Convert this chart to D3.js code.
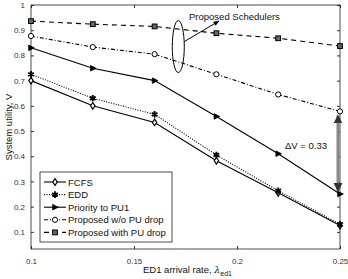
<!DOCTYPE html>
<html lang="en">
<head>
<meta charset="UTF-8">
<script src="https://d3js.org/d3.v7.min.js"></script>
<style>
  body { margin: 0; background: #fff; }
  text { font-family: "Liberation Sans", Arial, sans-serif; }
</style>
</head>
<body>
<script>
    // data
    let rates = [0.1, 0.13, 0.16, 0.19, 0.22, 0.25];
    let fcfs = [0.70, 0.60, 0.534, 0.382, 0.255, 0.125];
    let edd = [0.725, 0.63, 0.566, 0.405, 0.263, 0.13];
    let priority = [0.83, 0.749, 0.70, 0.558, 0.41, 0.25];
    let propNoDrop = [0.877, 0.833, 0.805, 0.725, 0.645, 0.578];
    let propDrop = [0.936, 0.924, 0.915, 0.888, 0.868, 0.837];
    let seriesNames = ["FCFS", "EDD", "Priority to PU1", "Proposed w/o PU drop", "Proposed with PU drop"];
    let xTicks = [0.1, 0.15, 0.2, 0.25];
    let yTicks = [0.1, 0.2, 0.3, 0.4, 0.5, 0.6, 0.7, 0.8, 0.9, 1];

    let series = [
        { name: seriesNames[0], values: fcfs, dash: null, marker: "diamond" },
        { name: seriesNames[1], values: edd, dash: "1,1.5", marker: "star" },
        { name: seriesNames[2], values: priority, dash: null, marker: "triangle" },
        { name: seriesNames[3], values: propNoDrop, dash: "4,2,1,2", marker: "circle" },
        { name: seriesNames[4], values: propDrop, dash: "5,4", marker: "square" }
    ];

    let W = 348, H = 279;
    let m = { left: 31, right: 8, top: 5, bottom: 30 };

    let svg = d3.select("body").append("svg")
        .attr("width", W)
        .attr("height", H);

    let x = d3.scaleLinear().domain([0.1, 0.25]).range([m.left, W - m.right]);
    let y = d3.scaleLinear().domain([0.032, 1]).range([H - m.bottom, m.top]);

    // axes, MATLAB style with inward ticks on all sides
    svg.append("g")
        .attr("transform", "translate(0," + (H - m.bottom) + ")")
        .call(d3.axisBottom(x).tickValues(xTicks).tickSize(-3).tickPadding(9).tickFormat(d3.format("")))
        .call(g => g.select(".domain").remove());
    svg.append("g")
        .attr("transform", "translate(0," + m.top + ")")
        .call(d3.axisTop(x).tickValues(xTicks).tickSize(-3).tickFormat(""))
        .call(g => g.select(".domain").remove());
    svg.append("g")
        .attr("transform", "translate(" + m.left + ",0)")
        .call(d3.axisLeft(y).tickValues(yTicks).tickSize(-3).tickPadding(6).tickFormat(d3.format("")))
        .call(g => g.select(".domain").remove());
    svg.append("g")
        .attr("transform", "translate(" + (W - m.right) + ",0)")
        .call(d3.axisRight(y).tickValues(yTicks).tickSize(-3).tickFormat(""))
        .call(g => g.select(".domain").remove());

    svg.selectAll(".tick text").attr("font-size", 8).attr("fill", "#333")
        .attr("font-family", "Liberation Sans, Arial, sans-serif");
    svg.selectAll(".tick line").attr("stroke", "#333");

    svg.append("rect")
        .attr("x", m.left).attr("y", m.top)
        .attr("width", W - m.left - m.right)
        .attr("height", H - m.top - m.bottom)
        .attr("fill", "none")
        .attr("stroke", "#222")
        .attr("stroke-width", 0.8);

    // axis labels
    let xl = svg.append("text")
        .attr("x", (m.left + W - m.right) / 2 + 2)
        .attr("y", H - 6)
        .attr("text-anchor", "middle")
        .attr("font-size", 9.5)
        .attr("fill", "#111");
    xl.append("tspan").text("ED1 arrival rate, ");
    xl.append("tspan").attr("font-family", "DejaVu Serif, serif").attr("font-style", "italic").text("λ");
    xl.append("tspan").attr("font-size", 7).attr("dy", 3).text("ed1");

    svg.append("text")
        .attr("transform", "translate(12," + ((m.top + H - m.bottom) / 2) + ") rotate(-90)")
        .attr("text-anchor", "middle")
        .attr("font-size", 9.5)
        .attr("fill", "#111")
        .text("System utility, V");

    function drawMarker(g, type, cx, cy) {
        let s = 2.8;
        if (type == "diamond") {
            g.append("path")
                .attr("d", "M" + cx + "," + (cy - s - 0.5) + "L" + (cx + s - 0.6) + "," + cy +
                    "L" + cx + "," + (cy + s + 0.5) + "L" + (cx - s + 0.6) + "," + cy + "Z")
                .attr("fill", "#fff").attr("stroke", "#000").attr("stroke-width", 1.2);
        } else if (type == "star") {
            g.append("path")
                .attr("d", d3.symbol(d3.symbolAsterisk, 30)())
                .attr("transform", "translate(" + cx + "," + cy + ")")
                .attr("fill", "none").attr("stroke", "#000").attr("stroke-width", 1.8);
        } else if (type == "triangle") {
            g.append("path")
                .attr("d", "M" + (cx + s + 0.5) + "," + cy + "L" + (cx - s + 0.5) + "," + (cy - s) +
                    "L" + (cx - s + 0.5) + "," + (cy + s) + "Z")
                .attr("fill", "#000").attr("stroke", "#000").attr("stroke-width", 0.8);
        } else if (type == "circle") {
            g.append("circle").attr("cx", cx).attr("cy", cy).attr("r", 2.6)
                .attr("fill", "#fff").attr("stroke", "#000").attr("stroke-width", 1);
        } else if (type == "square") {
            g.append("rect").attr("x", cx - 2.4).attr("y", cy - 2.4)
                .attr("width", 4.8).attr("height", 4.8)
                .attr("fill", "#666").attr("stroke", "#000").attr("stroke-width", 1);
        }
    }

    let line = d3.line()
        .x((d, i) => x(rates[i]))
        .y(d => y(d));

    series.forEach(s => {
        let g = svg.append("g");
        g.append("path")
            .datum(s.values)
            .attr("d", line)
            .attr("fill", "none")
            .attr("stroke", "#000")
            .attr("stroke-width", s.marker == "star" ? 1.1 : 1.1)
            .attr("stroke-dasharray", s.dash);
        s.values.forEach((v, i) => drawMarker(g, s.marker, x(rates[i]), y(v)));
    });

    // delta V annotation
    let defs = svg.append("defs");
    defs.append("marker")
        .attr("id", "head")
        .attr("viewBox", "0 0 10 10")
        .attr("refX", 9).attr("refY", 5)
        .attr("markerWidth", 3).attr("markerHeight", 3.5)
        .attr("orient", "auto-start-reverse")
        .append("path").attr("d", "M0,0L10,5L0,10Z").attr("fill", "#333");
    let xa = x(0.25) - 2;
    svg.append("line")
        .attr("x1", xa).attr("x2", xa)
        .attr("y1", y(propNoDrop[5]) + 4).attr("y2", y(priority[5]) - 3)
        .attr("stroke", "#888").attr("stroke-width", 3)
        .attr("marker-start", "url(#head)")
        .attr("marker-end", "url(#head)");
    svg.append("text")
        .attr("x", 285).attr("y", 149)
        .attr("font-size", 9.5).attr("fill", "#111")
        .text("ΔV = 0.33");

    // proposed schedulers ellipse + arrow
    defs.append("marker")
        .attr("id", "head2")
        .attr("viewBox", "0 0 10 10")
        .attr("refX", 9).attr("refY", 5)
        .attr("markerWidth", 7).attr("markerHeight", 6)
        .attr("orient", "auto")
        .append("path").attr("d", "M0,1L10,5L0,9Z").attr("fill", "#000");
    let ex = x(0.1715), ey = y(0.835);
    svg.append("ellipse")
        .attr("cx", ex).attr("cy", ey)
        .attr("rx", 6).attr("ry", 26)
        .attr("fill", "none").attr("stroke", "#000").attr("stroke-width", 1);
    svg.append("line")
        .attr("x1", ex + 6).attr("y1", ey - 5)
        .attr("x2", 219).attr("y2", 21)
        .attr("stroke", "#000").attr("stroke-width", 1)
        .attr("marker-end", "url(#head2)");
    svg.append("text")
        .attr("x", 189).attr("y", 20)
        .attr("font-size", 9.5).attr("fill", "#111")
        .text("Proposed Schedulers");

    // legend
    let lg = svg.append("g").attr("transform", "translate(40,172)");
    lg.append("rect")
        .attr("width", 132).attr("height", 70)
        .attr("fill", "#fff").attr("stroke", "#222").attr("stroke-width", 0.8);
    series.forEach((s, i) => {
        let ly = 10 + i * 12.6;
        lg.append("line")
            .attr("x1", 4).attr("x2", 26)
            .attr("y1", ly).attr("y2", ly)
            .attr("stroke", "#000").attr("stroke-width", 1.1)
            .attr("stroke-dasharray", s.dash);
        drawMarker(lg, s.marker, 15, ly);
        lg.append("text")
            .attr("x", 28).attr("y", ly + 3.5)
            .attr("font-size", 9.5).attr("fill", "#111")
            .text(s.name);
    });
</script>
</body>
</html>
